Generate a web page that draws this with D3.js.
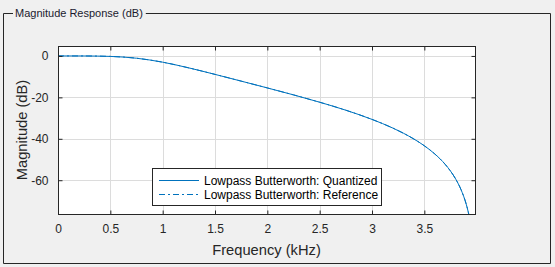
<!DOCTYPE html>
<html>
<head>
<meta charset="utf-8">
<script src="https://cdn.jsdelivr.net/npm/d3@7"></script>
<style>
  body { margin: 0; background: #f0f0f0; }
  text { font-family: Arial, "Liberation Sans", Helvetica, sans-serif; fill: #262626; }
</style>
</head>
<body>
<div id="chart"></div>
<script>
// frequency points (kHz) and magnitude (dB)
var freqKHz = [0, 0.25, 0.5, 0.75, 1, 1.25, 1.5, 1.75, 2, 2.25, 2.5, 2.75, 3,
  3.1, 3.2, 3.3, 3.4, 3.5, 3.6, 3.7, 3.75, 3.8, 3.85, 3.9, 3.92, 3.93, 3.94];
var quantizedDb = [0, -0.01, -0.23, -1.1, -3.01, -5.77, -8.9, -12.15, -15.44, -18.8, -22.34, -26.2, -30.63,
  -32.64, -34.84, -37.3, -40.1, -43.37, -47.32, -52.38, -55.58, -59.47, -64.49, -71.54, -75.42, -77.74, -80.42];
var referenceDb = [0, -0.01, -0.23, -1.1, -3.01, -5.77, -8.9, -12.15, -15.44, -18.8, -22.34, -26.2, -30.63,
  -32.64, -34.84, -37.3, -40.1, -43.37, -47.32, -52.38, -55.58, -59.47, -64.49, -71.54, -75.42, -77.74, -80.42];
var xTicks = [0, 0.5, 1, 1.5, 2, 2.5, 3, 3.5];
var yTicks = [-60, -40, -20, 0];
var seriesNames = ["Lowpass Butterworth: Quantized", "Lowpass Butterworth: Reference"];

var width = 555,
    height = 267;
var plot = {left: 58, right: 475, top: 46, bottom: 214};
var lineColor = "#0072bd";

var svg = d3.select("#chart")
  .append("svg")
    .attr("width", width)
    .attr("height", height);

svg.append("rect")
  .attr("width", width)
  .attr("height", height)
  .attr("fill", "#f0f0f0");

// panel frame with the title sitting on the top line
var title = svg.append("text")
  .attr("x", 15)
  .attr("y", 17)
  .style("font-size", "11px")
  .style("fill", "#1a1a2e")
  .text("Magnitude Response (dB)");
var titleEnd = 15 + title.node().getComputedTextLength() + 3;

svg.append("path")
  .attr("d", "M13,13.5 H3.5 V263.5 H550.5 V13.5 H" + titleEnd)
  .attr("fill", "none")
  .attr("stroke", "#262626")
  .attr("stroke-width", 1);

var x = d3.scaleLinear()
  .domain([0, 3.984])
  .range([plot.left, plot.right]);

var y = d3.scaleLinear()
  .domain([-76.3, 4.8])
  .range([plot.bottom, plot.top]);

svg.append("rect")
  .attr("x", plot.left)
  .attr("y", plot.top)
  .attr("width", plot.right - plot.left)
  .attr("height", plot.bottom - plot.top)
  .attr("fill", "white");

// grid
svg.append("g")
  .selectAll("line")
  .data(xTicks)
  .enter()
  .append("line")
  .attr("x1", function(d) { return Math.round(x(d)) + 0.5; })
  .attr("x2", function(d) { return Math.round(x(d)) + 0.5; })
  .attr("y1", plot.top)
  .attr("y2", plot.bottom)
  .attr("stroke", "#dcdcdc");

svg.append("g")
  .selectAll("line")
  .data(yTicks)
  .enter()
  .append("line")
  .attr("y1", function(d) { return Math.round(y(d)) + 0.5; })
  .attr("y2", function(d) { return Math.round(y(d)) + 0.5; })
  .attr("x1", plot.left)
  .attr("x2", plot.right)
  .attr("stroke", "#dcdcdc");

// curves, clipped to the axes box
svg.append("clipPath")
  .attr("id", "clip")
  .append("rect")
  .attr("x", plot.left)
  .attr("y", plot.top)
  .attr("width", plot.right - plot.left)
  .attr("height", plot.bottom - plot.top);

var line = d3.line()
  .x(function(d) { return x(d[0]); })
  .y(function(d) { return y(d[1]); })
  .curve(d3.curveMonotoneX);

svg.append("path")
  .datum(d3.zip(freqKHz, referenceDb))
  .attr("clip-path", "url(#clip)")
  .attr("d", line)
  .attr("fill", "none")
  .attr("stroke", lineColor)
  .attr("stroke-width", 1)
  .attr("stroke-dasharray", "6,3,2,3");

svg.append("path")
  .datum(d3.zip(freqKHz, quantizedDb))
  .attr("clip-path", "url(#clip)")
  .attr("d", line)
  .attr("fill", "none")
  .attr("stroke", lineColor)
  .attr("stroke-width", 1);

// axes: ticks inside on all four sides
var tickLen = 4;
svg.append("g")
  .attr("transform", "translate(0," + (plot.bottom + 0.5) + ")")
  .call(d3.axisBottom(x).tickValues(xTicks).tickSizeInner(-tickLen).tickSizeOuter(0).tickPadding(10)
    .tickFormat(function(d) { return d; }))
  .call(function(g) {
    g.select(".domain").remove();
    g.selectAll("text").style("font-size", "12px").attr("fill", "#262626");
  });

svg.append("g")
  .attr("transform", "translate(0," + (plot.top + 0.5) + ")")
  .call(d3.axisTop(x).tickValues(xTicks).tickSizeInner(-tickLen).tickSizeOuter(0).tickFormat(""))
  .call(function(g) { g.select(".domain").remove(); });

svg.append("g")
  .attr("transform", "translate(" + (plot.left + 0.5) + ",0)")
  .call(d3.axisLeft(y).tickValues(yTicks).tickSizeInner(-tickLen).tickSizeOuter(0).tickPadding(10)
    .tickFormat(function(d) { return d; }))
  .call(function(g) {
    g.select(".domain").remove();
    g.selectAll("text").style("font-size", "12px").attr("fill", "#262626");
  });

svg.append("g")
  .attr("transform", "translate(" + (plot.right + 0.5) + ",0)")
  .call(d3.axisRight(y).tickValues(yTicks).tickSizeInner(-tickLen).tickSizeOuter(0).tickFormat(""))
  .call(function(g) { g.select(".domain").remove(); });

svg.selectAll(".tick line").attr("stroke", "#262626");

svg.append("rect")
  .attr("x", plot.left + 0.5)
  .attr("y", plot.top + 0.5)
  .attr("width", plot.right - plot.left)
  .attr("height", plot.bottom - plot.top)
  .attr("fill", "none")
  .attr("stroke", "#262626")
  .attr("stroke-width", 1);

// axis labels
svg.append("text")
  .attr("x", (plot.left + plot.right) / 2)
  .attr("y", 255)
  .attr("text-anchor", "middle")
  .style("font-size", "14.7px")
  .text("Frequency (kHz)");

svg.append("text")
  .attr("transform", "translate(27," + (plot.top + plot.bottom) / 2 + ") rotate(-90)")
  .attr("text-anchor", "middle")
  .style("font-size", "14.7px")
  .text("Magnitude (dB)");

// legend
var legend = svg.append("g");
legend.append("rect")
  .attr("x", 152.5)
  .attr("y", 168.5)
  .attr("width", 229)
  .attr("height", 37)
  .attr("fill", "white")
  .attr("stroke", "#262626");

var dashes = [null, "6,3,2,3"];
var rows = legend.selectAll("g.row")
  .data(seriesNames)
  .enter()
  .append("g")
  .attr("transform", function(d, i) { return "translate(0," + (180.5 + i * 14) + ")"; });

rows.append("line")
  .attr("x1", 159)
  .attr("x2", 199)
  .attr("stroke", lineColor)
  .attr("stroke-dasharray", function(d, i) { return dashes[i]; });

rows.append("text")
  .attr("x", 204)
  .attr("dy", "0.35em")
  .style("font-size", "12px")
  .style("fill", "#000")
  .text(function(d) { return d; });
</script>
</body>
</html>
